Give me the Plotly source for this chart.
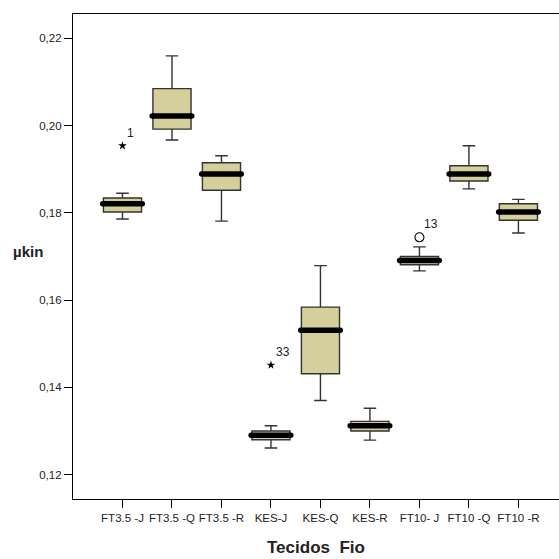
import plotly.graph_objects as go

categories = ["FT3.5 -J", "FT3.5 -Q", "FT3.5 -R", "KES-J", "KES-Q", "KES-R", "FT10- J", "FT10 -Q", "FT10 -R"]
lower_whisker = [0.1786, 0.1967, 0.1781, 0.1261, 0.1370, 0.1279, 0.1667, 0.1855, 0.1754]
q1_values     = [0.1802, 0.1992, 0.1852, 0.1280, 0.1431, 0.1300, 0.1681, 0.1873, 0.1783]
medians       = [0.1821, 0.2022, 0.1889, 0.1290, 0.1531, 0.1312, 0.1691, 0.1889, 0.1802]
q3_values     = [0.1834, 0.2085, 0.1915, 0.1300, 0.1584, 0.1322, 0.1700, 0.1908, 0.1821]
upper_whisker = [0.1845, 0.2160, 0.1931, 0.1312, 0.1679, 0.1352, 0.1722, 0.1954, 0.1831]

extreme_cat = [0, 3]          # asterisk outliers
extreme_val = [0.1954, 0.1451]
extreme_lab = ["1", "33"]
outlier_cat = [6]             # circle outliers
outlier_val = [0.1744]
outlier_lab = ["13"]

y_ticks = [0.12, 0.14, 0.16, 0.18, 0.20, 0.22]

FONT = "Liberation Sans, Arial, sans-serif"
idx = list(range(len(categories)))
BOXW = 0.77

fig = go.Figure()
fig.add_trace(go.Box(
    x=idx, q1=q1_values, median=medians, q3=q3_values,
    lowerfence=lower_whisker, upperfence=upper_whisker,
    width=BOXW, whiskerwidth=0.33,
    fillcolor="#D4CF9B", line=dict(color="#333333", width=1.4),
    boxpoints=False, hoverinfo="skip", showlegend=False,
))

# thick median bars
mx, my = [], []
ex, ey = [], []
for i, m in zip(idx, medians):
    mx += [i - 0.40, i + 0.40, None]
    my += [m, m, None]
    ex += [i - 0.40, i + 0.40]
    ey += [m, m]
fig.add_trace(go.Scatter(x=mx, y=my, mode="lines", line=dict(color="black", width=5.5),
                         showlegend=False, hoverinfo="skip"))
fig.add_trace(go.Scatter(x=ex, y=ey, mode="markers", marker=dict(color="black", size=5.5, symbol="circle"),
                         showlegend=False, hoverinfo="skip"))

fig.add_trace(go.Scatter(x=extreme_cat, y=extreme_val, mode="markers",
                         marker=dict(symbol="star", size=6.5, color="black",
                                     line=dict(color="black", width=0)),
                         showlegend=False, hoverinfo="skip"))
fig.add_trace(go.Scatter(x=outlier_cat, y=outlier_val, mode="markers",
                         marker=dict(symbol="circle-open", size=9, color="black",
                                     line=dict(color="black", width=1.1)),
                         showlegend=False, hoverinfo="skip"))

for c, v, t in list(zip(extreme_cat, extreme_val, extreme_lab)) + list(zip(outlier_cat, outlier_val, outlier_lab)):
    fig.add_annotation(x=c, y=v, text=t, showarrow=False, xanchor="left", yanchor="bottom",
                       xshift=3, yshift=4, font=dict(family=FONT, size=12, color="#222"))

fig.add_annotation(xref="paper", yref="paper", x=-0.093, y=0.51, text="<b>µkin</b>",
                   showarrow=False, xanchor="center", yanchor="middle",
                   font=dict(family=FONT, size=15, color="#222"))
fig.add_annotation(xref="paper", yref="paper", x=0.50, y=-0.101, text="<b>Tecidos  Fio</b>",
                   showarrow=False, xanchor="center", yanchor="middle",
                   font=dict(family=FONT, size=17, color="#222"))

fig.update_layout(
    width=559, height=559,
    margin=dict(l=73, r=0, t=14, b=60),
    paper_bgcolor="white", plot_bgcolor="white",
    separators=",.",
    font=dict(family=FONT, size=11, color="#222"),
    xaxis=dict(range=[-1, 8.82], tickmode="array", tickvals=idx, ticktext=categories,
               showgrid=False, zeroline=False, showline=True, mirror=True,
               linecolor="black", linewidth=1.3, ticks="outside", ticklen=8,
               tickcolor="black", tickwidth=1.2, tickfont=dict(size=11.5)),
    yaxis=dict(range=[0.1144, 0.2256], tickmode="array", tickvals=y_ticks,
               tickformat=".2f", showgrid=False, zeroline=False, showline=True,
               linecolor="black", linewidth=1.3, ticks="outside", ticklen=8,
               tickcolor="black", tickwidth=1.2, tickfont=dict(size=11.5)),
)

fig.write_html("out.html", config={"displayModeBar": False},
               post_script="document.body.style.margin='0';document.body.style.overflow='hidden';")
